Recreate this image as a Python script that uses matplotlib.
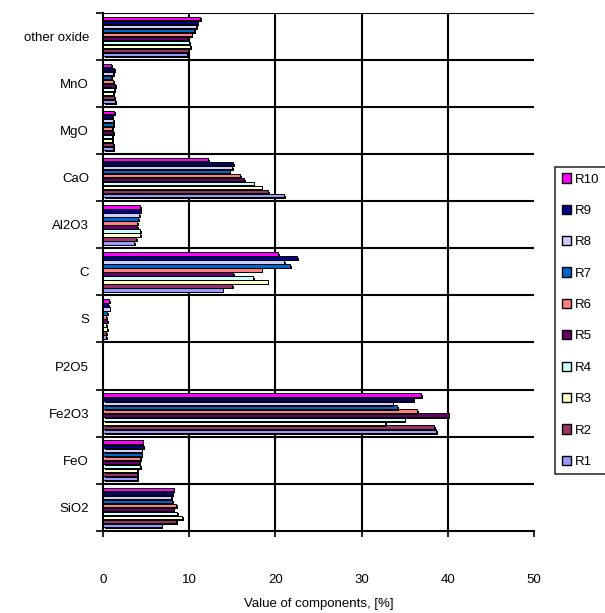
import matplotlib
matplotlib.use("Agg")
import matplotlib.pyplot as plt
import matplotlib.patheffects as pe
from matplotlib.patches import Patch

plt.rcParams['font.family'] = ['Liberation Sans Narrow', 'Liberation Sans', 'DejaVu Sans']

# components, bottom to top
components = ["SiO2", "FeO", "Fe2O3", "P2O5", "S", "C", "Al2O3", "CaO", "MgO", "MnO", "other oxide"]

# composition of each sample, [%]
r1 = [6.8, 4.0, 38.6, 0.0, 0.4, 13.9, 3.6, 21.0, 1.2, 1.4, 9.7]
r2 = [8.5, 4.0, 38.4, 0.0, 0.4, 15.0, 3.9, 19.2, 1.2, 1.3, 9.9]
r3 = [9.2, 4.0, 32.7, 0.0, 0.5, 19.1, 4.3, 18.4, 1.1, 1.2, 10.1]
r4 = [8.6, 4.3, 35.0, 0.0, 0.4, 17.4, 4.3, 17.5, 1.1, 1.3, 10.0]
r5 = [8.2, 4.2, 40.1, 0.0, 0.5, 15.1, 4.0, 16.4, 1.2, 1.4, 9.8]
r6 = [8.5, 4.3, 36.4, 0.0, 0.4, 18.4, 4.0, 15.9, 1.1, 1.2, 10.3]
r7 = [8.0, 4.5, 34.1, 0.0, 0.5, 21.7, 4.1, 14.7, 1.2, 1.0, 10.6]
r8 = [7.9, 4.5, 33.6, 0.0, 0.8, 21.0, 4.2, 15.0, 1.2, 1.2, 10.8]
r9 = [8.1, 4.7, 36.0, 0.0, 0.6, 22.5, 4.4, 15.1, 1.1, 1.3, 11.0]
r10 = [8.2, 4.6, 36.9, 0.0, 0.7, 20.3, 4.3, 12.2, 1.3, 1.0, 11.3]

series = [r1, r2, r3, r4, r5, r6, r7, r8, r9, r10]
names = ["R1", "R2", "R3", "R4", "R5", "R6", "R7", "R8", "R9", "R10"]
colors = ["#9999FF", "#993366", "#FFFFCC", "#CCFFFF", "#660066",
          "#FF8080", "#0066CC", "#CCCCFF", "#000080", "#FF00FF"]

fig = plt.figure(figsize=(6.05, 6.13), dpi=100)
ax = fig.add_axes([0.170, 0.134, 0.713, 0.845])

h = 0.085
shadow = [pe.SimplePatchShadow(offset=(1.2, -1.2), shadow_rgbFace="black", alpha=1.0), pe.Normal()]
for k, (vals, c) in enumerate(zip(series, colors)):
    ys = [i + (k - 4.5) * h for i in range(len(components))]
    bars = ax.barh(ys, vals, height=h * 0.9, color=c, edgecolor="black", linewidth=0.7, zorder=3)
    for b in bars:
        b.set_path_effects(shadow)

ax.set_xlim(0, 50)
ax.set_ylim(-0.5, len(components) - 0.5)

# grid: vertical at value ticks, horizontal between categories
for xv in [10, 20, 30, 40]:
    ax.axvline(xv, color="black", lw=1.5, zorder=1)
for yb in range(len(components)):
    ax.axhline(yb + 0.5, color="black", lw=1.5, zorder=1)

ax.set_xticks([0, 10, 20, 30, 40, 50])
ax.tick_params(axis="x", direction="out", length=4, width=1.2, pad=27, labelsize=9.5)

ax.set_yticks([i - 0.5 for i in range(len(components) + 1)])
ax.set_yticklabels([])
ax.set_yticks(range(len(components)), minor=True)
ax.set_yticklabels(components, minor=True, fontsize=9.5)
ax.tick_params(axis="y", which="major", direction="out", length=5, width=1.2)
ax.tick_params(axis="y", which="minor", length=0, pad=10)

for s in ["top", "right"]:
    ax.spines[s].set_visible(False)
for s in ["left", "bottom"]:
    ax.spines[s].set_linewidth(1.5)

ax.set_xlabel("Value of components, [%]", fontsize=9.5, labelpad=9)

handles = [Patch(facecolor=c, edgecolor="black", label=n) for c, n in zip(colors, names)][::-1]
leg = fig.legend(handles=handles, loc="upper left", bbox_to_anchor=(0.918, 0.728),
                 fontsize=9.5, frameon=True, fancybox=False, edgecolor="black",
                 handlelength=0.7, handleheight=0.7, handletextpad=0.3,
                 labelspacing=1.45, borderpad=0.5, borderaxespad=0)
leg.get_frame().set_linewidth(1.2)

fig.savefig("out.png", dpi=100)
